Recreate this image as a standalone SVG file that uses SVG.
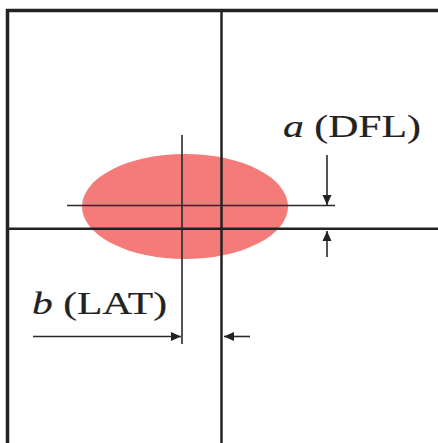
<svg xmlns="http://www.w3.org/2000/svg" width="438" height="443" viewBox="0 0 438 443">
  <defs>
    <style>
      .frame { fill: none; stroke: #222; stroke-width: 3.5; }
      .main { stroke: #222; stroke-width: 2.5; fill: none; }
      .thin { stroke: #2a2a2a; stroke-width: 1.6; fill: none; }
      .label { font-family: "Liberation Serif", "Times New Roman", serif; font-size: 32px; fill: #222; stroke: #222; stroke-width: 0.2; }
    </style>
    <marker id="arr" viewBox="0 0 10 10" refX="10" refY="5" markerWidth="10" markerHeight="10" markerUnits="userSpaceOnUse" orient="auto">
      <path d="M0,0.5 L10,5 L0,9.5 Z" fill="#222"/>
    </marker>
  </defs>
  <rect width="438" height="443" fill="#fff"/>
  <g id="frame">
    <path class="frame" d="M7.5,443 L7.5,10.5 L440,10.5"/>
  </g>
  <g id="spot">
    <ellipse cx="185" cy="206.5" rx="103" ry="52.5" fill="#f57a7a"/>
  </g>
  <g id="axes">
    <line class="main" x1="221.5" y1="10" x2="221.5" y2="443"/>
    <line class="main" x1="8" y1="228.8" x2="438" y2="228.8"/>
    <line class="thin" x1="182" y1="135" x2="182" y2="344"/>
    <line class="thin" x1="67" y1="205.5" x2="335" y2="205.5"/>
  </g>
  <g id="connectors">
    <line class="thin" x1="327" y1="155" x2="327" y2="205" marker-end="url(#arr)"/>
    <line class="thin" x1="327" y1="257" x2="327" y2="231" marker-end="url(#arr)"/>
    <line class="thin" x1="33" y1="336.5" x2="181" y2="336.5" marker-end="url(#arr)"/>
    <line class="thin" x1="250" y1="336.5" x2="224" y2="336.5" marker-end="url(#arr)"/>
  </g>
  <g id="label-a">
    <text class="label" x="283" y="137" textLength="138" lengthAdjust="spacingAndGlyphs"><tspan font-style="italic">a</tspan> (DFL)</text>
  </g>
  <g id="label-b">
    <text class="label" x="32" y="314" textLength="135" lengthAdjust="spacingAndGlyphs"><tspan font-style="italic">b</tspan> (LAT)</text>
  </g>
</svg>
